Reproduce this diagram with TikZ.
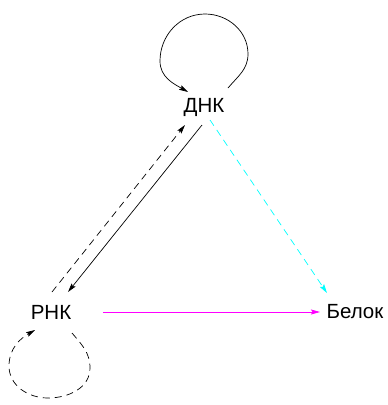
\documentclass[tikz,border=0pt]{standalone}
\usepackage{fontspec}
\setmainfont{Liberation Sans}
\usetikzlibrary{arrows.meta}
\definecolor{transl}{RGB}{255,0,255}
\definecolor{direct}{RGB}{0,255,255}
\begin{document}
\begin{tikzpicture}[x=1pt,y=1pt,
  lbl/.style={font=\fontsize{20.5}{24}\selectfont, inner sep=0pt},
  edge/.style={line width=0.7pt, -{Stealth[length=9pt,width=5pt,inset=1.5pt]}},
  dsh/.style={dash pattern=on 7pt off 5pt}]
  \useasboundingbox (0,0) rectangle (388,-405);

  \node[lbl] (dnk) at (204,-107) {ДНК};
  \node[lbl] (rnk) at (51,-312) {РНК};
  \node[lbl] (bel) at (355,-312) {Белок};

  % self loop on ДНК
  \draw[edge] ([shift={(24,19)}]dnk.center) to[out=50,in=-90] ([shift={(44,53)}]dnk.center)
     to[out=90,in=0] ([shift={(1,93)}]dnk.center)
     to[out=180,in=90] ([shift={(-44,46)}]dnk.center)
     to[out=-90,in=150] ([shift={(-16,15)}]dnk.center);

  % dashed self loop on РНК
  \draw[edge,dsh] ([shift={(21,-21)}]rnk.center) to[out=-50,in=90] ([shift={(39,-56)}]rnk.center)
     to[out=-90,in=0] ([shift={(-3,-86)}]rnk.center)
     to[out=180,in=-90] ([shift={(-42,-54)}]rnk.center)
     to[out=90,in=-150] ([shift={(-16,-18)}]rnk.center);

  % transcription and reverse transcription
  \draw[edge] ([shift={(-2,-18)}]dnk.center) -- ([shift={(17,20)}]rnk.center);
  \draw[edge,dsh] ([shift={(1,20)}]rnk.center) -- ([shift={(-19,-18)}]dnk.center);

  % translation
  \draw[edge,transl] ([xshift=52]rnk.center) -- ([xshift=-35]bel.center);
  % direct path
  \draw[edge,dsh,direct] ([shift={(6,-13)}]dnk.center) -- ([shift={(-28,19)}]bel.center);
\end{tikzpicture}
\end{document}
